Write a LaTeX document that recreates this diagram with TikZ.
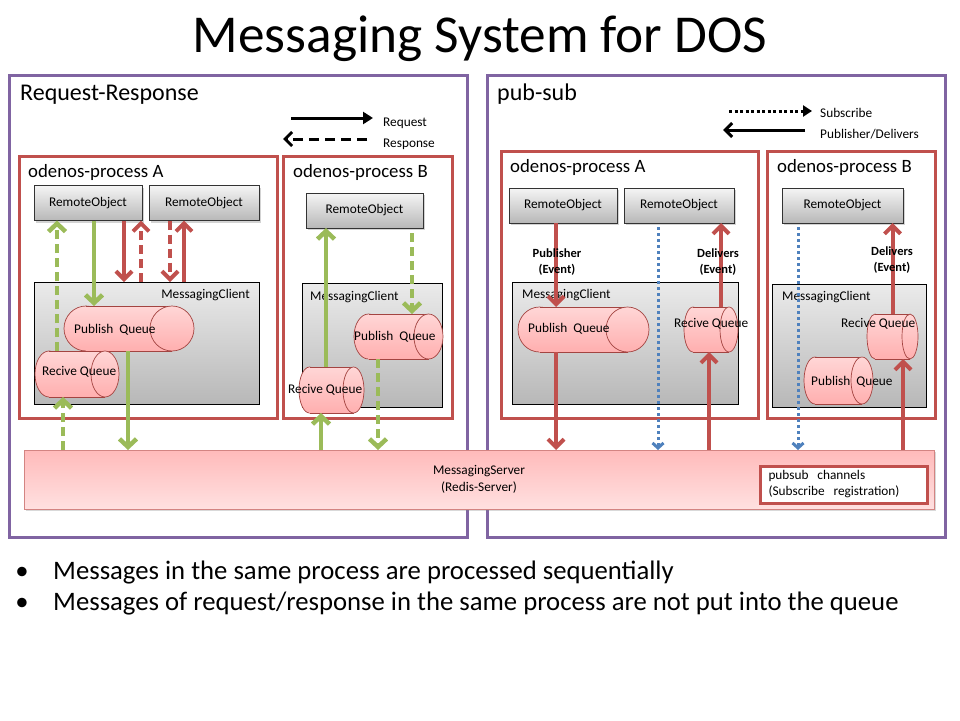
\documentclass[tikz,border=0pt]{standalone}
\usepackage{fontspec}
\setmainfont{Carlito}
\usetikzlibrary{shapes.geometric, arrows.meta, shadows}

\definecolor{dospurple}{HTML}{8064A2}
\definecolor{dosred}{HTML}{C0504D}
\definecolor{dosgreen}{HTML}{9BBB59}
\definecolor{dosblue}{HTML}{4F81BD}
\definecolor{qtop}{HTML}{FFD6D6}
\definecolor{qbot}{HTML}{FFAFAF}

\tikzset{
  panel/.style={draw=dospurple, line width=3pt, inner sep=0pt, outer sep=0pt},
  proc/.style={draw=dosred, line width=3pt, inner sep=0pt, outer sep=0pt},
  robj/.style={draw=black!80, line width=0.8pt, top color=black!4, bottom color=black!28,
    drop shadow={shadow xshift=2pt, shadow yshift=-2pt, opacity=0.35},
    inner sep=0pt, outer sep=0pt, font=\fontsize{13.3}{16}\selectfont},
  mclient/.style={draw=black, line width=1pt, top color=black!8, bottom color=black!28,
    inner sep=0pt, outer sep=0pt},
  qbox/.style={inner sep=0pt, outer sep=0pt},
  qline/.style={draw=dosred!85!black, line width=0.7pt},
  qfill/.style={top color=qtop, bottom color=qbot},
  server/.style={draw=dosred!70, line width=0.7pt, top color=red!27, bottom color=red!12,
    drop shadow={shadow xshift=2pt, shadow yshift=-2pt, opacity=0.3},
    inner sep=0pt, outer sep=0pt, align=center, font=\fontsize{13.3}{17}\selectfont},
  lbl/.style={anchor=base west, inner sep=0pt, font=\fontsize{13.3}{16}\selectfont},
  heading/.style={anchor=base west, inner sep=0pt, font=\fontsize{24}{28}\selectfont},
  procname/.style={anchor=base west, inner sep=0pt, font=\fontsize{18.8}{22}\selectfont},
  evlabel/.style={inner sep=0pt, align=center, font=\bfseries\fontsize{12.5}{16}\selectfont},
  bullet/.style={anchor=base west, inner sep=0pt, font=\fontsize{26.7}{30}\selectfont},
  gsol/.style={draw=dosgreen, line width=4.5pt, -{Straight Barb[length=8pt,width=17pt]}},
  gdash/.style={gsol, dash pattern=on 9pt off 5pt},
  rsol/.style={draw=dosred, line width=4pt, -{Straight Barb[length=8pt,width=16pt]}},
  rdash/.style={rsol, dash pattern=on 9pt off 5pt},
  bdot/.style={draw=dosblue, line width=3pt, dash pattern=on 3pt off 3pt,
    -{Straight Barb[length=5pt,width=11pt]}},
  legsol/.style={draw=black, line width=3pt},
}

\begin{document}
\begin{tikzpicture}[x=1pt, y=-1pt]
\useasboundingbox (0,0) rectangle (960,720);

% Queue: name, centre x, centre y, width, height, end radius
\newcommand\dosqueue[6]{
  \node[qbox, minimum width=#4pt, minimum height=#5pt] (#1) at (#2,#3) {};
  \shade[qfill] ([xshift=#6pt]#1.west) ellipse [x radius=#6, y radius=#5/2];
  \draw[qline] ([xshift=#6pt]#1.west) ellipse [x radius=#6, y radius=#5/2];
  \shade[qfill] ([xshift=#6pt]#1.north west) rectangle ([xshift=-#6pt]#1.south east);
  \draw[qline] ([xshift=#6pt]#1.north west) -- ([xshift=-#6pt]#1.north east)
    ([xshift=#6pt]#1.south west) -- ([xshift=-#6pt]#1.south east);
  \shade[qfill] ([xshift=-#6pt]#1.east) ellipse [x radius=#6, y radius=#5/2];
  \draw[qline] ([xshift=-#6pt]#1.east) ellipse [x radius=#6, y radius=#5/2];
}

% Title
\node[anchor=base, inner sep=0pt, font=\fontsize{53.3}{60}\selectfont] (title) at (480,52) {Messaging System for DOS};

% Two panels
\node[panel, minimum width=458pt, minimum height=462pt] (rrpanel) at (238,306) {};
\node[panel, minimum width=458pt, minimum height=462pt] (pspanel) at (716,306) {};
\node[heading] (rrname) at (20,100) {Request-Response};
\node[heading] (psname) at (497,100) {pub-sub};

% Legends
\coordinate (reqA) at (291,118); \coordinate (reqB) at (373,118);
\coordinate (resA) at (367,139); \coordinate (resB) at (283,139);
\coordinate (subA) at (729,111); \coordinate (subB) at (812,111);
\coordinate (delA) at (805,130); \coordinate (delB) at (723,130);
\draw[legsol, -{Triangle[length=10pt,width=12pt]}] (reqA) -- (reqB);
\draw[legsol, dash pattern=on 10pt off 6pt, -{Straight Barb[length=7pt,width=14pt]}] (resA) -- (resB);
\draw[legsol, dash pattern=on 3pt off 2.5pt, -{Triangle[length=9pt,width=11pt]}] (subA) -- (subB);
\draw[legsol, -{Straight Barb[length=7pt,width=14pt]}] (delA) -- (delB);
\node[lbl] (reqtxt) at (383,126) {Request};
\node[lbl] (restxt) at (383,147) {Response};
\node[lbl] (subtxt) at (820,117) {Subscribe};
\node[lbl] (deltxt) at (820,138) {Publisher/Delivers};

% Process boxes
\foreach \n/\x/\y/\w/\h/\t/\lx/\ly in {procLA/148/287/258/262/A/28/177, procLB/367.5/287/169/262/B/293/177,
    procRA/629.5/284.5/257/267/A/510/172, procRB/851/284.5/168/267/B/777/172} {
  \node[proc, minimum width=\w pt, minimum height=\h pt] (\n) at (\x,\y) {};
  \node[procname] (\n-name) at (\lx,\ly) {odenos-process \t};
}

% Remote objects
\foreach \n/\x/\y/\w in {roLA1/88/203/108, roLA2/204/203/110, roLB/364.5/210.5/117,
    roRA1/563/205.5/108, roRA2/679/205.5/110, roRB/842.5/205.5/121}
  \node[robj, minimum width=\w pt, minimum height=35pt] (\n) at (\x,\y) {RemoteObject};

% Messaging clients
\foreach \n/\x/\y/\w/\h in {mcLA/146.5/343/225/122, mcLB/372/345/140/124,
    mcRA/625/343/226/122, mcRB/849/345.5/154/123}
  \node[mclient, minimum width=\w pt, minimum height=\h pt] (\n) at (\x,\y) {};
\node[lbl, anchor=base east] (mcLAtxt) at (250,298) {MessagingClient};
\node[lbl] (mcLBtxt) at (310,300) {MessagingClient};
\node[lbl] (mcRAtxt) at (522,298) {MessagingClient};
\node[lbl] (mcRBtxt) at (782,300) {MessagingClient};

% Queues
\foreach \n/\x/\y/\w/\h/\r in {pqLA/129/328.5/130/45/22, rqLA/77/374/84/46/14,
    pqLB/398.5/336.5/89/45/14.5, rqLB/331.5/390/65/46/10.5,
    pqRA/583.5/329.5/131/45/21.5, rqRA/711/329.5/54/45/9,
    rqRB/892.5/336.5/51/45/8, pqRB/838.5/380.5/69/47/11} {
  \dosqueue{\n}{\x}{\y}{\w}{\h}{\r}
}
\node[lbl] (pqLAtxt) at (74,333) {Publish~~Queue};
\node[lbl] (rqLAtxt) at (42,375) {Recive Queue};
\node[lbl] (pqLBtxt) at (354,340) {Publish~~Queue};
\node[lbl] (rqLBtxt) at (288,393) {Recive Queue};
\node[lbl] (pqRAtxt) at (528,332) {Publish~~Queue};
\node[lbl] (rqRAtxt) at (674,327) {Recive Queue};
\node[lbl] (rqRBtxt) at (841,327) {Recive Queue};
\node[lbl] (pqRBtxt) at (811,385) {Publish~~Queue};

% Server and channels
\node[server, minimum width=910pt, minimum height=59pt] (srv) at (479,479.5) {MessagingServer\\(Redis-Server)};
\node[draw=dosred, line width=3pt, fill=white, minimum width=167pt, minimum height=37pt, inner sep=0pt,
  text width=150pt, align=left, font=\fontsize{13.3}{16}\selectfont] (chan) at (843.5,484.5)
  {pubsub~~channels\\(Subscribe~~registration)};

% Request-Response, process A
\draw[gdash] ([xshift=-20pt]rqLA.north) -- ([xshift=-20pt]rqLA.north |- roLA1.south);
\draw[gsol] ([xshift=6pt]roLA1.south) -- ([xshift=6pt]roLA1.south |- pqLA.north);
\draw[rsol] ([xshift=36pt]roLA1.south) -- ([xshift=36pt]roLA1.south |- mcLA.north);
\draw[rdash] ([xshift=53pt]roLA1.south |- mcLA.north) -- ([xshift=53pt]roLA1.south);
\draw[rdash] ([xshift=-34pt]roLA2.south) -- ([xshift=-34pt]roLA2.south |- mcLA.north);
\draw[rsol] ([xshift=-20pt]roLA2.south |- mcLA.north) -- ([xshift=-20pt]roLA2.south);
\draw[gdash] ([xshift=-14pt]rqLA.south |- srv.north) -- ([xshift=-14pt]rqLA.south);
\draw[gsol] ([xshift=-1pt]pqLA.south) -- ([xshift=-1pt]pqLA.south |- srv.north);

% Request-Response, process B
\draw[gsol] ([xshift=-5.5pt]rqLB.north) -- ([xshift=-5.5pt]rqLB.north |- roLB.south);
\draw[gdash] ([xshift=47.5pt,yshift=-5pt]roLB.south) -- ([xshift=47.5pt]roLB.south |- pqLB.north);
\draw[gsol] ([xshift=-10.5pt]rqLB.south |- srv.north) -- ([xshift=-10.5pt]rqLB.south);
\draw[gdash] ([xshift=-20.5pt]pqLB.south) -- ([xshift=-20.5pt]pqLB.south |- srv.north);

% pub-sub, process A
\draw[rsol] ([xshift=-7pt]roRA1.south) -- ([xshift=-7pt]roRA1.south |- pqRA.north);
\draw[rsol] ([xshift=-27.5pt]pqRA.south) -- ([xshift=-27.5pt]pqRA.south |- srv.north);
\draw[bdot] ([xshift=-21pt,yshift=-4pt]roRA2.south) -- ([xshift=-21pt]roRA2.south |- srv.north);
\draw[rsol] ([xshift=10pt]rqRA.north) -- ([xshift=10pt]rqRA.north |- roRA2.south);
\draw[rsol] ([xshift=-2pt]rqRA.south |- srv.north) -- ([xshift=-2pt]rqRA.south);
\node[evlabel] (pubev) at (557,262) {Publisher\\(Event)};
\node[evlabel] (delevA) at (718,262) {Delivers\\(Event)};

% pub-sub, process B
\draw[bdot] ([xshift=-44.5pt,yshift=-4pt]roRB.south) -- ([xshift=-44.5pt]roRB.south |- srv.north);
\draw[rsol] (rqRB.north) -- (rqRB.north |- roRB.south);
\draw[rsol] ([xshift=10.5pt]rqRB.south |- srv.north) -- ([xshift=10.5pt]rqRB.south);
\node[evlabel] (delevB) at (892,260) {Delivers\\(Event)};

% Notes
\node[bullet, anchor=base] (dot1) at (22,579) {•};
\node[bullet] (note1) at (53,579) {Messages in the same process are processed sequentially};
\node[bullet, anchor=base] (dot2) at (22,610) {•};
\node[bullet] (note2) at (53,610) {Messages of request/response in the same process are not put into the queue};

\end{tikzpicture}
\end{document}
